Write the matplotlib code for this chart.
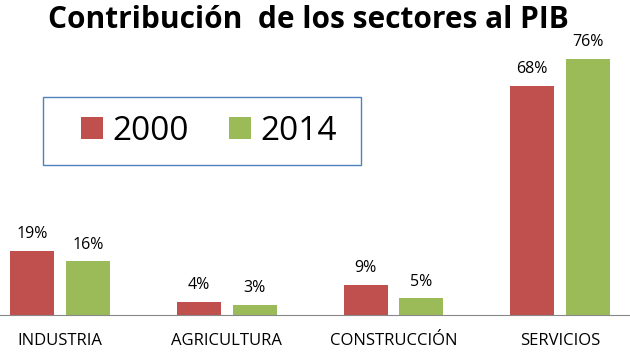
import matplotlib.pyplot as plt
import numpy as np
from matplotlib.patches import Rectangle

sectores = ["INDUSTRIA", "AGRICULTURA", "CONSTRUCCIÓN", "SERVICIOS"]
v2000 = [19, 4, 9, 68]
v2014 = [16, 3, 5, 76]
anios = ["2000", "2014"]

plt.rcParams['font.family'] = ['Open Sans', 'DejaVu Sans']

fig = plt.figure(figsize=(6.3, 3.58), dpi=100)
ax = fig.add_axes([0, 0.12, 1, 0.754])

x = np.arange(len(sectores))
w = 0.264
b1 = ax.bar(x - 0.167, v2000, w, color='#C0504D', label=anios[0])
b2 = ax.bar(x + 0.167, v2014, w, color='#9BBB59', label=anios[1])

for bars, vals in ((b1, v2000), (b2, v2014)):
    for r, v in zip(bars, vals):
        ax.text(r.get_x() + r.get_width() / 2, v + 2.5, "{}%".format(v),
                ha='center', va='bottom', fontsize=11.5)

ax.set_xlim(-0.36, 3.42)
ax.set_ylim(0, 80)
ax.set_xticks(x)
ax.set_xticklabels(sectores, fontsize=12)
ax.tick_params(axis='x', length=0, pad=13)
ax.set_yticks([])
for s in ('top', 'right', 'left'):
    ax.spines[s].set_visible(False)
ax.spines['bottom'].set_color('#888888')

# recuadro de la leyenda
ax.add_patch(Rectangle((0.068, 0.556), 0.505, 0.251, transform=ax.transAxes,
                       fill=False, edgecolor='#4F81BD', linewidth=1,
                       clip_on=False))
leg = ax.legend(loc='center', bbox_to_anchor=(0.332, 0.68), ncol=2,
                fontsize=24, frameon=False, handlelength=0.65,
                handleheight=0.65, columnspacing=1.2, handletextpad=0.3,
                borderaxespad=0)

fig.text(0.49, 0.944, "Contribución  de los sectores al PIB", ha='center',
         va='center', fontsize=21.5, fontweight='bold')

plt.savefig("out.png")
